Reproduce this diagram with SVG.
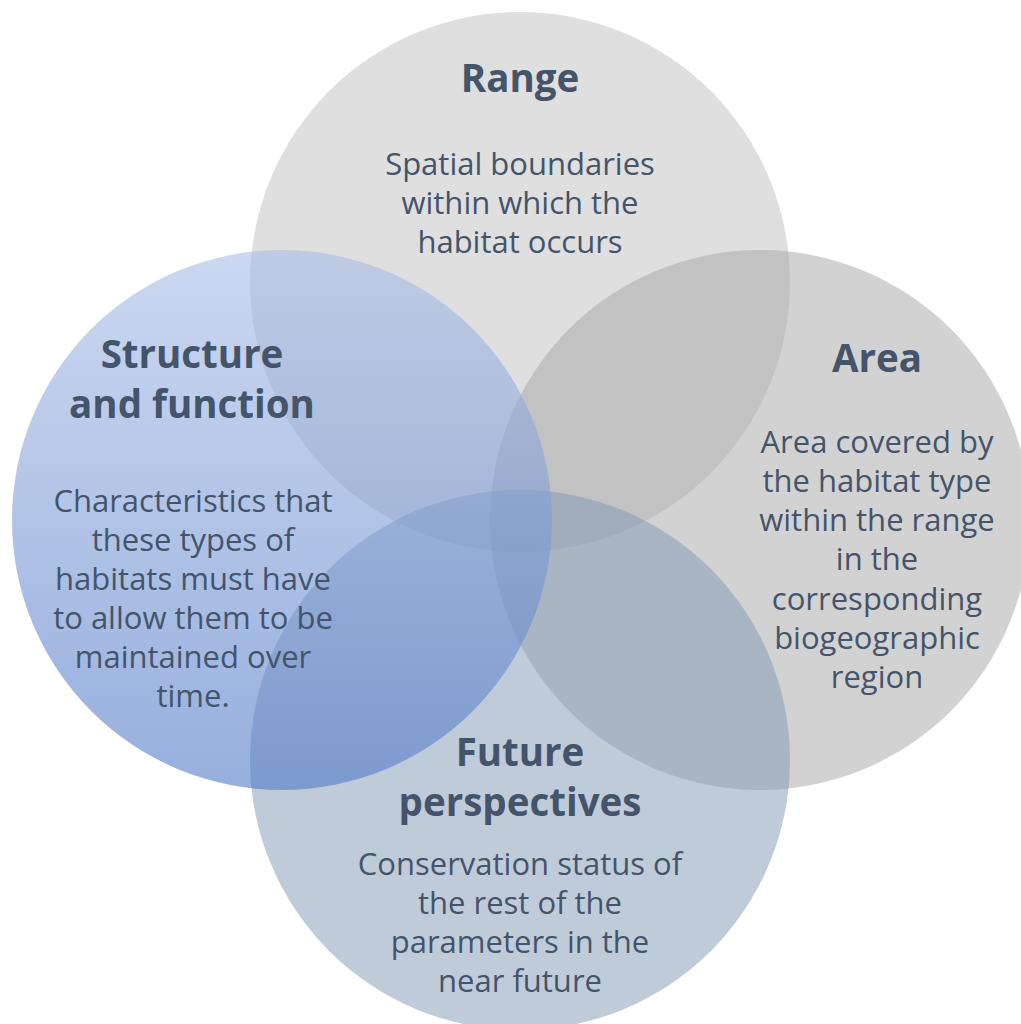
<svg xmlns="http://www.w3.org/2000/svg" width="1021" height="1024" viewBox="0 0 1021 1024">
  <defs>
    <linearGradient id="sfGrad" x1="0" y1="0" x2="0" y2="1">
      <stop offset="0" stop-color="#aabee6"/>
      <stop offset="1" stop-color="#5079c8"/>
    </linearGradient>
    <style>
      .title { font-family: "Open Sans", "Noto Sans", sans-serif; font-weight: bold; font-size: 38.5px; fill: #44546a; text-anchor: middle; }
      .body { font-family: "Open Sans", "Noto Sans", sans-serif; font-size: 31px; fill: #44546a; text-anchor: middle; }
      .range { fill: #bfbfbf; fill-opacity: 0.5; }
      .area { fill: #a6a6a6; fill-opacity: 0.5; }
      .future { fill: #8197b3; fill-opacity: 0.5; }
      .sf { fill: url(#sfGrad); fill-opacity: 0.6; }
    </style>
  </defs>
  <rect width="1021" height="1024" fill="#ffffff"/>

  <!-- circles, back to front -->
  <g id="range">
    <circle class="range" cx="520" cy="282" r="270"/>
  </g>
  <g id="area">
    <circle class="area" cx="760" cy="520" r="270"/>
  </g>
  <g id="future">
    <circle class="future" cx="520" cy="760" r="270"/>
  </g>
  <g id="structure">
    <circle class="sf" cx="282" cy="520" r="270"/>
  </g>

  <g id="connectors"></g>

  <!-- labels -->
  <g id="range-text">
    <text class="title" x="520" y="92">Range</text>
    <text class="body" x="520" y="175">Spatial boundaries</text>
    <text class="body" x="520" y="214">within which the</text>
    <text class="body" x="520" y="253">habitat occurs</text>
  </g>
  <g id="area-text">
    <text class="title" x="877" y="372">Area</text>
    <text class="body" x="877" y="453">Area covered by</text>
    <text class="body" x="877" y="492">the habitat type</text>
    <text class="body" x="877" y="531">within the range</text>
    <text class="body" x="877" y="570">in the</text>
    <text class="body" x="877" y="610">corresponding</text>
    <text class="body" x="877" y="649">biogeographic</text>
    <text class="body" x="877" y="688">region</text>
  </g>
  <g id="structure-text">
    <text class="title" x="192" y="368">Structure</text>
    <text class="title" x="192" y="418">and function</text>
    <text class="body" x="193" y="512">Characteristics that</text>
    <text class="body" x="193" y="551">these types of</text>
    <text class="body" x="193" y="590">habitats must have</text>
    <text class="body" x="193" y="629">to allow them to be</text>
    <text class="body" x="193" y="668">maintained over</text>
    <text class="body" x="193" y="707">time.</text>
  </g>
  <g id="future-text">
    <text class="title" x="520" y="766">Future</text>
    <text class="title" x="520" y="816">perspectives</text>
    <text class="body" x="520" y="875">Conservation status of</text>
    <text class="body" x="520" y="914">the rest of the</text>
    <text class="body" x="520" y="953">parameters in the</text>
    <text class="body" x="520" y="992">near future</text>
  </g>
</svg>
